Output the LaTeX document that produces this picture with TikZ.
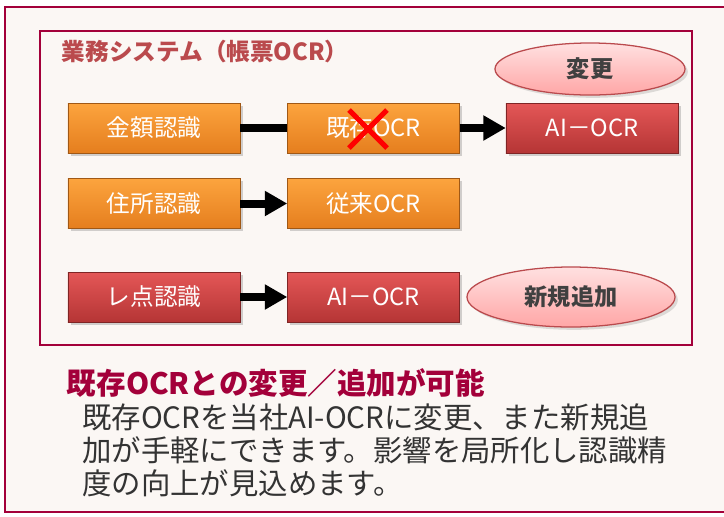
\documentclass[tikz,border=0pt]{standalone}
\usepackage{fontspec}
\setmainfont{Noto Sans CJK JP}
\usetikzlibrary{arrows.meta,shapes.geometric,shadows}

\definecolor{frameRed}{HTML}{A3003A}
\definecolor{paper}{HTML}{FBF7F4}
\definecolor{titleRed}{HTML}{BA4A4D}
\definecolor{textGray}{HTML}{333333}
\definecolor{inkGray}{HTML}{404040}
\definecolor{orangeTop}{HTML}{FCA43E}
\definecolor{orangeBot}{HTML}{E57E1E}
\definecolor{redTop}{HTML}{E45757}
\definecolor{redBot}{HTML}{B53535}

\tikzset{
  ocrbox/.style={minimum width=4.3cm, minimum height=1.25cm, inner sep=0pt,
    text=white, font=\fontsize{16.8}{18}\selectfont,
    drop shadow={shadow xshift=2pt, shadow yshift=-2pt, opacity=0.35}},
  oldbox/.style={ocrbox, top color=orangeTop, bottom color=orangeBot,
    draw=orangeBot!70!black, line width=0.3pt},
  newbox/.style={ocrbox, top color=redTop, bottom color=redBot,
    draw=redBot!70!black, line width=0.3pt},
  tag/.style={ellipse, draw=titleRed, line width=0.9pt, top color=red!12!white, bottom color=red!35!white,
    text=inkGray, font=\bfseries\fontsize{16.5}{18}\selectfont, inner sep=0pt,
    drop shadow={shadow xshift=2pt, shadow yshift=-2pt, opacity=0.25}},
  link/.style={line width=5.7pt},
  flow/.style={link, -{Triangle[length=16pt, width=17pt]}}
}

\begin{document}
\begin{tikzpicture}[x=0.025cm, y=-0.025cm]
    \useasboundingbox (0,0) rectangle (724,516);

    % Frames
    \draw[frameRed, line width=1.4pt, fill=paper] (5,7) rectangle (740,512);
    \draw[frameRed, line width=1.1pt] (40,31) rectangle (692,345);
    \node[anchor=west, text=titleRed, font=\bfseries\fontsize{16.8}{18}\selectfont] (sys) at (57,52) {業務システム（帳票OCR）};

    % Row 1
    \node[oldbox] (kingaku) at (154,128) {金額認識};
    \node[oldbox] (old) at (373.5,128) {既存OCR};
    \node[newbox] (ai1) at (592,128) {AI－OCR};
    \node[tag, minimum width=4.75cm, minimum height=1.3cm] (change) at (590,69) {変更};

    % Row 2
    \node[oldbox] (jusho) at (154,203.5) {住所認識};
    \node[oldbox] (conv) at (373.5,203.5) {従来OCR};

    % Row 3
    \node[newbox] (reten) at (154,297) {レ点認識};
    \node[newbox] (ai2) at (373.5,297) {AI－OCR};
    \node[tag, minimum width=5.2cm, minimum height=1.5cm] (added) at (571,297) {新規追加};

    % Connectors
    \draw[link] (kingaku) -- (old);
    \draw[flow] (old) -- (ai1);
    \draw[flow] (jusho) -- (conv);
    \draw[flow] (reten) -- (ai2);

    % Cross on old OCR
    \draw[red, line width=3.6pt] (349,110) -- (387,148);
    \draw[red, line width=3.6pt] (387,110) -- (349,148);

    % Description
    \node[anchor=west, text=frameRed, font=\bfseries\fontsize{21}{22}\selectfont] (head) at (62,383) {既存OCRとの変更／追加が可能};
    \node[anchor=north west, align=left, text=textGray, inner sep=0pt,
      font=\fontsize{20.9}{23.6}\selectfont] (body) at (82,403)
      {既存OCRを当社AI-OCRに変更、また新規追\\加が手軽にできます。影響を局所化し認識精\\度の向上が見込めます。};
\end{tikzpicture}
\end{document}
